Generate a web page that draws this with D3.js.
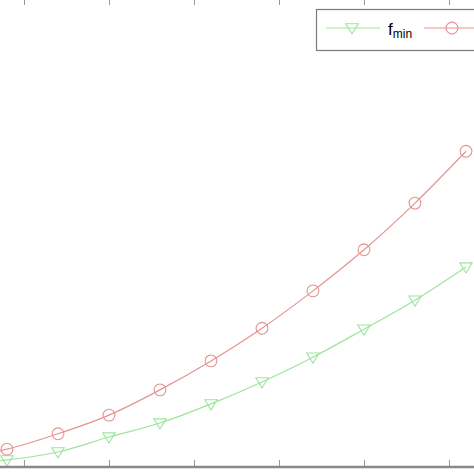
<!DOCTYPE html>
<html>
<head>
<meta charset="utf-8">
<script src="https://cdn.jsdelivr.net/npm/d3@7"></script>
<style>
  html, body { margin: 0; padding: 0; background: #fff; }
  svg { display: block; }
</style>
</head>
<body>
<div id="chart"></div>
<script>
// ---- data ----
const xValues   = [1, 4, 7, 10, 13, 16, 19, 22, 25, 28, 31];
const fMinVals  = [0.3, 1.3, 3.0, 6.2, 9.2, 13.3, 18.0, 23.3, 29.3, 35.5, 42.6];
const fMaxVals  = [1.6, 3.6, 6.9, 10.9, 16.3, 22.5, 29.5, 37.5, 46.3, 56.3, 67.4];
const xTicks    = [5, 10, 15, 20, 25, 30];
const seriesNames = ["f", "f"];

(function () {
const W = 474, H = 474;
const svg = d3.select("#chart").append("svg")
  .attr("width", W).attr("height", H)
  .style("font-family", "Arial, 'Liberation Sans', sans-serif");

svg.append("rect").attr("width", W).attr("height", H).attr("fill", "#fff");

const x = d3.scaleLinear().domain([5, 30]).range([24, 449]);
const y = d3.scaleLinear().domain([0, 100]).range([466, -1]);

svg.append("defs").append("clipPath").attr("id", "clip")
  .append("rect").attr("x", -100).attr("y", -1).attr("width", W + 200).attr("height", 467);

const plot = svg.append("g").attr("clip-path", "url(#clip)");

const green = "#9ce59c", red = "#e69292";

const line = d3.line().x(d => x(d[0])).y(d => y(d[1])).curve(d3.curveMonotoneX);

const gData = xValues.map((v, i) => [v, fMinVals[i]]);
const rData = xValues.map((v, i) => [v, fMaxVals[i]]);

plot.append("path").datum(gData).attr("d", line)
  .attr("fill", "none").attr("stroke", green).attr("stroke-width", 1.2);
plot.append("path").datum(rData).attr("d", line)
  .attr("fill", "none").attr("stroke", red).attr("stroke-width", 1.2);

// downward triangle marker (MATLAB 'v')
const triPath = "M-6.2,-4.2L6.2,-4.2L0,6Z";
plot.selectAll(".tri").data(gData).enter().append("path")
  .attr("d", triPath)
  .attr("transform", d => `translate(${x(d[0])},${y(d[1])})`)
  .attr("fill", "none").attr("stroke", green).attr("stroke-width", 1.1);

plot.selectAll(".circ").data(rData).enter().append("circle")
  .attr("cx", d => x(d[0])).attr("cy", d => y(d[1])).attr("r", 5.9)
  .attr("fill", "none").attr("stroke", red).attr("stroke-width", 1.1);

// axes
const bottomAx = svg.append("g").attr("transform", "translate(0,466)")
  .call(d3.axisBottom(x).tickValues(xTicks).tickSize(-6).tickSizeOuter(0).tickFormat(""));
bottomAx.select(".domain").remove();
bottomAx.selectAll(".tick line").attr("stroke", "#999").attr("stroke-width", 1);
bottomAx.append("line").attr("x1", 0).attr("x2", W).attr("y1", 1).attr("y2", 1)
  .attr("stroke", "#8a8a8a").attr("stroke-width", 2.6);

const topAx = svg.append("g").attr("transform", "translate(0,-1)")
  .call(d3.axisTop(x).tickValues(xTicks).tickSize(-6).tickSizeOuter(0).tickFormat(""));
topAx.select(".domain").attr("stroke", "#8a8a8a");
topAx.selectAll(".tick line").attr("stroke", "#999").attr("stroke-width", 1);

// legend
const lg = svg.append("g");
lg.append("rect").attr("x", 316.5).attr("y", 9.5).attr("width", 220).attr("height", 41)
  .attr("fill", "#fff").attr("stroke", "#7a7a7a").attr("stroke-width", 1.2);
lg.append("line").attr("x1", 326).attr("x2", 380).attr("y1", 28).attr("y2", 28)
  .attr("stroke", green).attr("stroke-width", 1.2);
lg.append("path").attr("d", triPath).attr("transform", "translate(352,28)")
  .attr("fill", "none").attr("stroke", green).attr("stroke-width", 1.1);
const t = lg.append("text").attr("x", 388).attr("y", 35).attr("fill", "#000");
t.append("tspan").attr("font-size", 17).text(seriesNames[0]);
t.append("tspan").attr("font-size", 12).attr("dy", 3).attr("dx", 0).text("min");
lg.append("line").attr("x1", 424).attr("x2", 480).attr("y1", 28).attr("y2", 28)
  .attr("stroke", red).attr("stroke-width", 1.2);
lg.append("circle").attr("cx", 452).attr("cy", 28).attr("r", 5.9)
  .attr("fill", "none").attr("stroke", red).attr("stroke-width", 1.1);
})();
</script>
</body>
</html>
